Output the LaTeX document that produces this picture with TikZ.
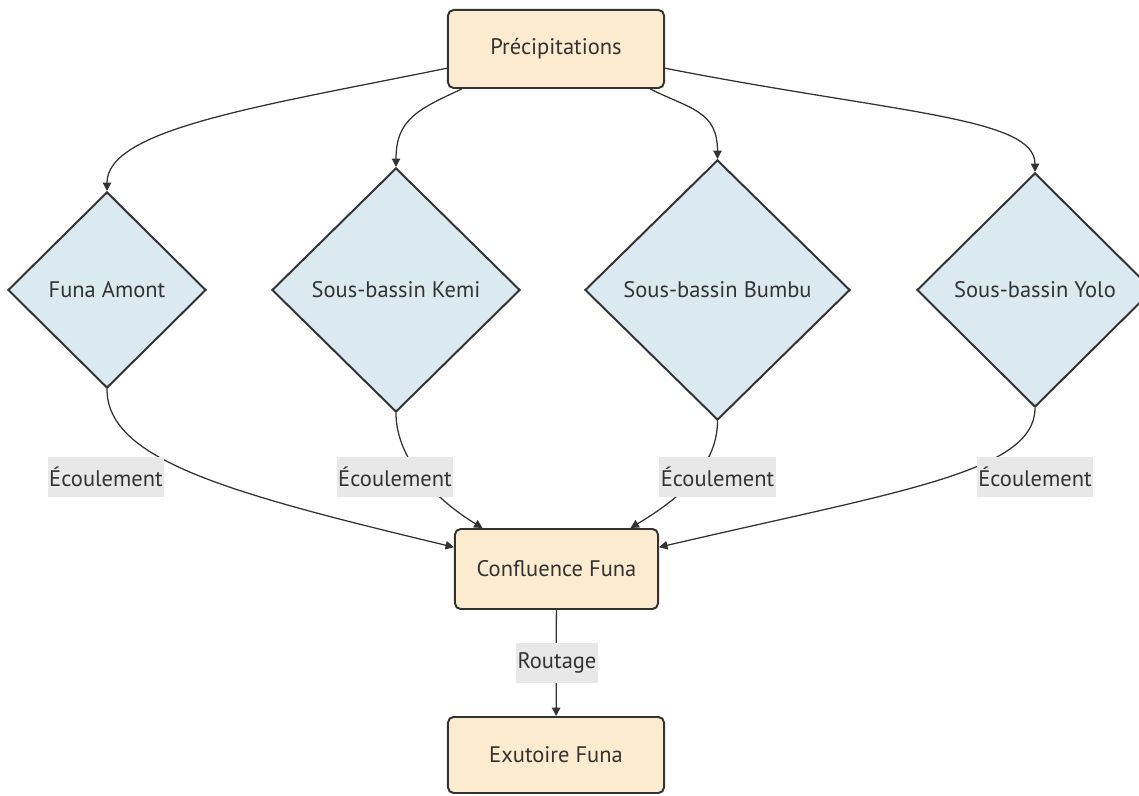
\documentclass[tikz,border=0pt]{standalone}
\usepackage{fontspec}
\setmainfont{PT Sans}
\usetikzlibrary{shapes.geometric,arrows.meta}

\definecolor{peach}{HTML}{FDEBD0}
\definecolor{paleblue}{HTML}{DBEAF1}
\definecolor{inkgray}{HTML}{333333}
\definecolor{labelgray}{HTML}{E8E8E8}

\tikzset{
    procbox/.style={draw=inkgray, line width=1.4pt, fill=peach, rounded corners=4pt,
        text=inkgray, font=\fontsize{16}{18}\selectfont, inner sep=0pt},
    basin/.style={diamond, draw=inkgray, line width=1.4pt, fill=paleblue,
        text=inkgray, font=\fontsize{16}{18}\selectfont, inner sep=0pt},
    flowlabel/.style={fill=labelgray, text=inkgray, font=\fontsize{16}{18}\selectfont,
        inner xsep=1pt, inner ysep=0pt, minimum height=1cm},
    flow/.style={draw=inkgray, line width=0.9pt, -{Triangle[length=6pt,width=6pt]}}
}

\begin{document}
\begin{tikzpicture}[x=0.025cm, y=0.025cm]
    \useasboundingbox (0,0) rectangle (1139,796);

    % Source and sub-basins
    \node[procbox, minimum width=5.4cm, minimum height=1.95cm] (prec) at (556,747) {Précipitations};
    \node[basin, minimum width=4.95cm, minimum height=4.9cm] (amont) at (107,506) {Funa Amont};
    \node[basin, minimum width=6.2cm, minimum height=6.1cm] (kemi) at (396,506) {Sous-bassin Kemi};
    \node[basin, minimum width=6.625cm, minimum height=6.5cm] (bumbu) at (717.5,506) {Sous-bassin Bumbu};
    \node[basin, minimum width=5.9cm, minimum height=5.85cm] (yolo) at (1035,506) {Sous-bassin Yolo};

    % Confluence and outlet
    \node[procbox, minimum width=5.075cm, minimum height=2cm] (confl) at (556.5,227) {Confluence Funa};
    \node[procbox, minimum width=5.4cm, minimum height=1.9cm] (exut) at (556,41) {Exutoire Funa};

    % Rain onto each sub-basin
    \draw[flow] (prec.190) .. controls +(-187,-38) and +(0,62) .. (amont.north);
    \draw[flow] (prec.203) .. controls +(-43,-20) and +(0,48) .. (kemi.north);
    \draw[flow] (prec.337) .. controls +(40,-20) and +(0,48) .. (bumbu.north);
    \draw[flow] (prec.350) .. controls +(230,-45) and +(0,55) .. (yolo.north);

    % Runoff to the confluence
    \draw[flow] (amont.south) .. controls +(0,-70) and +(-230,55) .. (confl.168);
    \draw[flow] (kemi.south) .. controls +(0,-50) and +(-40,24) .. (confl.151);
    \draw[flow] (bumbu.south) .. controls +(0,-50) and +(40,24) .. (confl.29);
    \draw[flow] (yolo.south) .. controls +(0,-64) and +(240,56) .. (confl.12);
    \draw[flow] (confl) -- (exut);

    % Edge labels
    \node[flowlabel] (ecAmont) at (106,319) {Écoulement};
    \node[flowlabel] (ecKemi) at (395,319) {Écoulement};
    \node[flowlabel] (ecBumbu) at (717.5,319) {Écoulement};
    \node[flowlabel] (ecYolo) at (1035,319) {Écoulement};
    \node[flowlabel] (routage) at (557,133) {Routage};

\end{tikzpicture}
\end{document}
